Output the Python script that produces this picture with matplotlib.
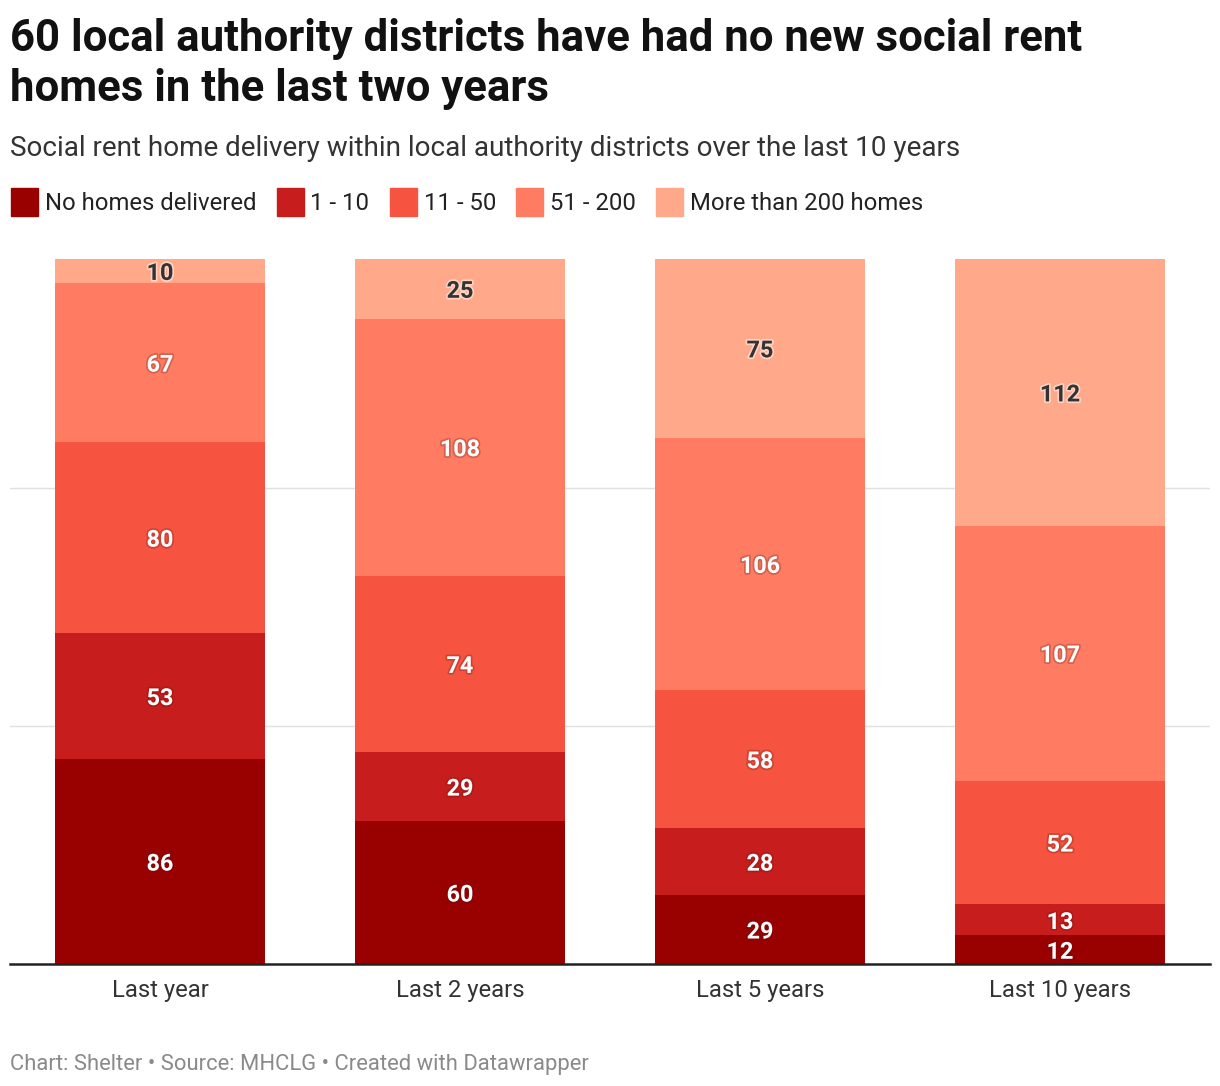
import matplotlib
matplotlib.use("Agg")
import matplotlib.pyplot as plt
import matplotlib.patheffects as pe
from matplotlib.patches import Rectangle
import numpy as np

plt.rcParams['font.family'] = ['Roboto', 'DejaVu Sans']

periods = ["Last year", "Last 2 years", "Last 5 years", "Last 10 years"]
bands = ["No homes delivered", "1 - 10", "11 - 50", "51 - 200", "More than 200 homes"]
no_homes = [86, 60, 29, 12]
one_ten = [53, 29, 28, 13]
eleven_fifty = [80, 74, 58, 52]
fifty_200 = [67, 108, 106, 107]
over_200 = [10, 25, 75, 112]
colors = ["#990000", "#c71e1d", "#f65340", "#ff7b61", "#ffa88a"]

series = [no_homes, one_ten, eleven_fifty, fifty_200, over_200]

W, H = 1220, 1086
fig = plt.figure(figsize=(W / 100, H / 100), dpi=100)
ax = fig.add_axes([10 / W, (H - 964) / H, 1200 / W, 705 / H])

x = np.arange(len(periods))
bottom = np.zeros(len(periods))
for i, vals in enumerate(series):
    vals = np.array(vals)
    ax.bar(x, vals, 0.7, bottom=bottom, color=colors[i], zorder=2)
    for xi, b, v in zip(x, bottom, vals):
        if i == 4:
            tc, halo, a = "#333333", "#ffffff", 0.5
        else:
            tc, halo, a = "white", "#5a1010", 0.25
        ax.text(xi, b + v / 2, str(v), ha="center", va="center_baseline", fontsize=16.8,
                fontweight="bold", color=tc, zorder=3,
                path_effects=[pe.withStroke(linewidth=2.5, foreground=halo, alpha=a)])
    bottom += vals

ax.set_xlim(-0.5, 3.5)
ax.set_ylim(0, 296)
for g in [100, 200]:
    ax.axhline(g, color="#e0e0e0", lw=1, zorder=1)
ax.set_yticks([])
ax.set_xticks(x)
ax.set_xticklabels(periods, fontsize=17.2, color="#333333")
ax.tick_params(axis="x", length=0, pad=11)
for s in ["left", "right", "top"]:
    ax.spines[s].set_visible(False)
ax.spines["bottom"].set_color("#222222")
ax.spines["bottom"].set_linewidth(1.8)
ax.spines["bottom"].set_zorder(4)

fig.text(10 / W, 1 - 51 / H, "60 local authority districts have had no new social rent",
         fontsize=31.5, fontweight="bold", color="#111111", va="baseline")
fig.text(10 / W, 1 - 101 / H, "homes in the last two years",
         fontsize=31.5, fontweight="bold", color="#111111", va="baseline")
fig.text(10 / W, 1 - 156 / H, "Social rent home delivery within local authority districts over the last 10 years",
         fontsize=20.1, color="#333333", va="baseline")
fig.text(10 / W, 1 - 1070 / H, "Chart: Shelter \u2022 Source: MHCLG \u2022 Created with Datawrapper",
         fontsize=15.8, color="#8a8a8a", va="baseline")

# legend row
renderer = fig.canvas.get_renderer()
lx = 11
for lab, c in zip(bands, colors):
    fig.patches.append(Rectangle((lx / W, 1 - 216 / H), 27 / W, 28 / H, transform=fig.transFigure,
                                 color=c, figure=fig))
    t = fig.text((lx + 34) / W, 1 - 203 / H, lab, fontsize=17.2, color="#222222", va="center")
    bb = t.get_window_extent(renderer)
    lx = bb.x1 + 20

fig.savefig("out.png", dpi=100)
